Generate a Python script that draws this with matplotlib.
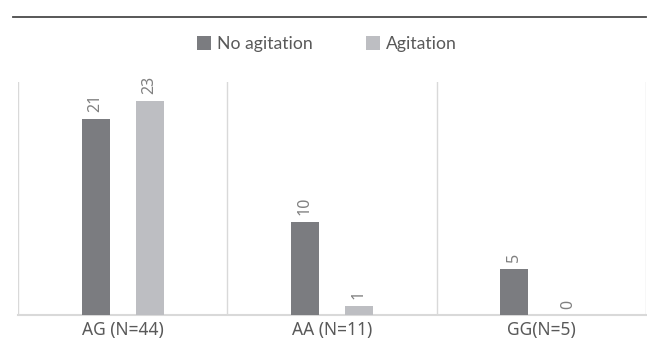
"""Genotype vs agitation counts, grouped bar chart."""

import matplotlib

matplotlib.use("Agg")
from matplotlib import pyplot as plt  # noqa: E402
from matplotlib.lines import Line2D  # noqa: E402
import numpy as np  # noqa: E402

categories = ["AG (N=44)", "AA (N=11)", "GG(N=5)"]
no_agitation = [21, 10, 5]
agitation = [23, 1, 0]
series_labels = ["No agitation", "Agitation"]

DARK = "#7b7c80"
LIGHT = "#bdbec2"
GRID = "#d9d9d9"
TEXT = "#595959"

plt.rcParams["font.family"] = ["Noto Sans", "DejaVu Sans"]

fig = plt.figure(figsize=(6.47, 3.44), dpi=100)
ax = fig.add_axes([0.0278, 0.083, 0.9707, 0.679])

x = np.arange(len(categories))
width = 0.133
offset = 0.129
b1 = ax.bar(x - offset, no_agitation, width, color=DARK, label=series_labels[0], zorder=3)
b2 = ax.bar(x + offset, agitation, width, color=LIGHT, label=series_labels[1], zorder=3)

for bars in (b1, b2):
    ax.bar_label(bars, padding=5, rotation=90, color="#808080", fontsize=11.5)

ax.set_xlim(-0.5, len(categories) - 0.5)
ax.set_ylim(0, 25)
ax.set_xticks(x)
ax.set_xticklabels(categories, fontsize=12.5, color=TEXT)
ax.set_xticks(np.arange(len(categories) + 1) - 0.5, minor=True)
ax.tick_params(axis="x", which="both", length=0, pad=4)
ax.set_yticks([])
ax.grid(True, axis="x", which="minor", color=GRID, linewidth=1, zorder=0)
for side in ("top", "right", "left"):
    ax.spines[side].set_visible(False)
ax.spines["bottom"].set_color(GRID)
ax.spines["bottom"].set_linewidth(1.5)

fig.legend(
    handles=[b1, b2],
    loc="center",
    bbox_to_anchor=(0.505, 0.872),
    ncol=2,
    frameon=False,
    prop={"family": ["Lato", "DejaVu Sans"], "size": 12.7},
    labelcolor=TEXT,
    handlelength=0.8,
    handleheight=0.8,
    handletextpad=0.34,
    columnspacing=3.0,
)

fig.add_artist(Line2D([13 / 647, 646 / 647], [1 - 17 / 344] * 2, color="#4a4a4a", linewidth=1.3))

fig.savefig("out.png", dpi=100)
